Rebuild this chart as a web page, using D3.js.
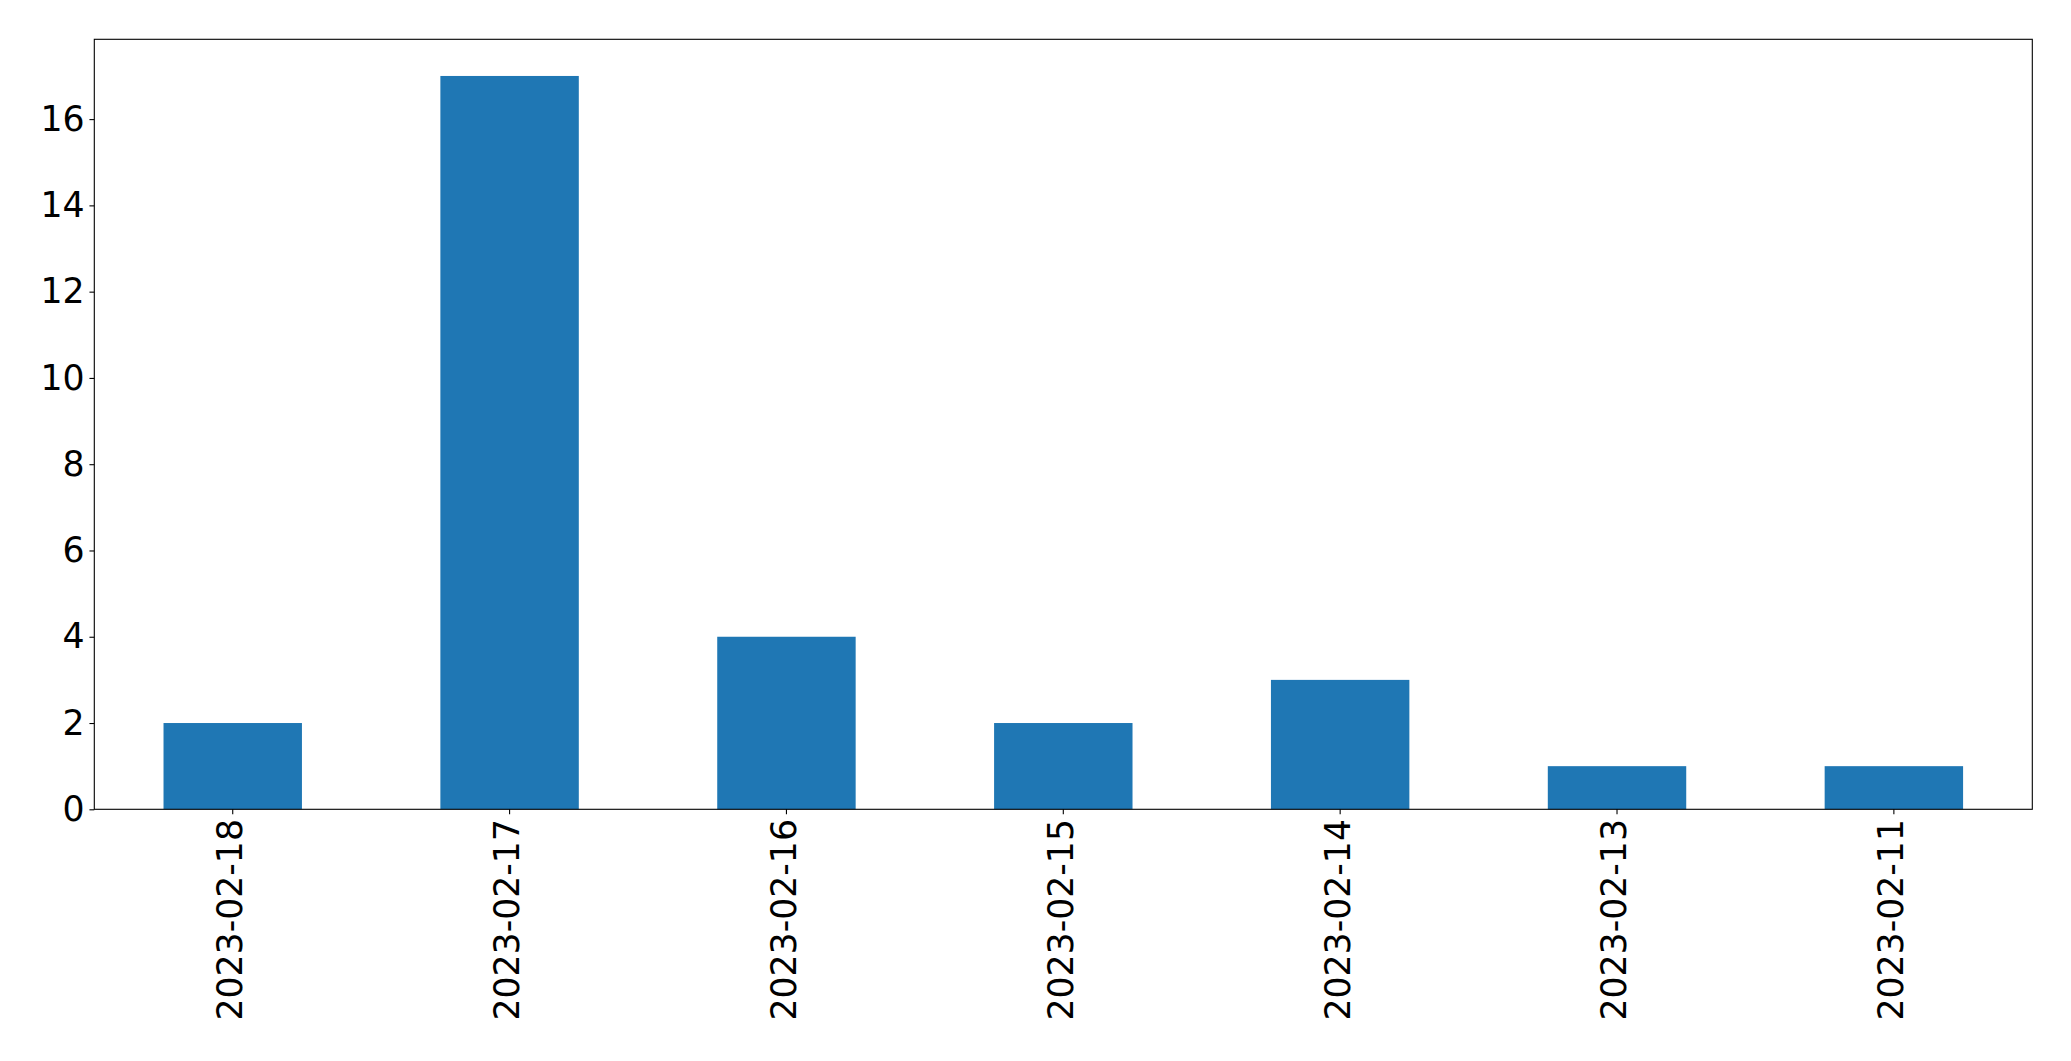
<!DOCTYPE html>
<html>
<head>
<meta charset="utf-8">
<script src="https://cdn.jsdelivr.net/npm/d3@7"></script>
<style>
html, body { margin: 0; padding: 0; background: #fff; }
svg { display: block; }
</style>
</head>
<body>
<script>
const categories = ["2023-02-18", "2023-02-17", "2023-02-16", "2023-02-15", "2023-02-14", "2023-02-13", "2023-02-11"];
const values = [2, 17, 4, 2, 3, 1, 1];
const yTicks = [0, 2, 4, 6, 8, 10, 12, 14, 16];

const W = 2071, H = 1061;
const m = { left: 94.3, right: W - 2032.3, top: 39.3, bottom: H - 809.3 };
const iw = W - m.left - m.right, ih = H - m.top - m.bottom;

const svg = d3.select("body").append("svg").attr("width", W).attr("height", H);
const g = svg.append("g").attr("transform", `translate(${m.left},${m.top})`);

const x = d3.scaleBand().domain(categories).range([0, iw]).paddingInner(0.5).paddingOuter(0.25);
const y = d3.scaleLinear().domain([0, d3.max(values) * 1.05]).range([ih, 0]);

g.selectAll("rect.bar").data(values).enter().append("rect")
  .attr("class", "bar")
  .attr("x", (d, i) => x(categories[i]))
  .attr("width", x.bandwidth())
  .attr("y", d => y(d))
  .attr("height", d => y(0) - y(d))
  .attr("fill", "#1f77b4");

const fontFam = "'DejaVu Sans', sans-serif";
const tickLen = 4.86, pad = 4.86;

const yAxis = g.append("g").call(d3.axisLeft(y).tickValues(yTicks).tickSize(tickLen).tickPadding(pad).tickFormat(d3.format("d")));
yAxis.select(".domain").remove();
yAxis.selectAll("line").attr("stroke", "#000").attr("stroke-width", 1.1);
yAxis.selectAll("text").attr("font-family", fontFam).attr("font-size", 34.7).attr("fill", "#000");

const xAxis = g.append("g").attr("transform", `translate(0,${ih})`)
  .call(d3.axisBottom(x).tickSize(tickLen).tickPadding(pad));
xAxis.select(".domain").remove();
xAxis.selectAll("line").attr("stroke", "#000").attr("stroke-width", 1.1);
xAxis.selectAll("text")
  .attr("font-family", fontFam).attr("font-size", 34.7).attr("fill", "#000")
  .attr("text-anchor", "end")
  .attr("x", 0).attr("y", 0).attr("dy", "0.33em")
  .attr("transform", `translate(-2,${tickLen + pad}) rotate(-90)`);

g.append("rect").attr("x", 0).attr("y", 0).attr("width", iw).attr("height", ih)
  .attr("fill", "none").attr("stroke", "#000").attr("stroke-width", 1.1);
</script>
</body>
</html>
